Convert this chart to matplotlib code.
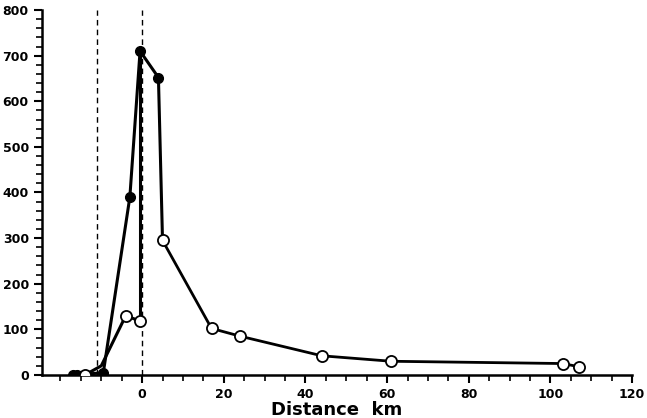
import matplotlib.pyplot as plt
from matplotlib.ticker import MultipleLocator, FixedLocator

# filled circles (black)
fill_x = [-17, -16, -9.5, -3, -0.5, 4]
fill_y = [0, 0, 5, 390, 710, 652]
# open circles
open_x = [-14, -4, -0.5, 5, 17, 24, 44, 61, 103, 107]
open_y = [0, 130, 118, 295, 102, 85, 42, 30, 25, 18]

fig = plt.figure(figsize=(6.47, 4.18), dpi=100)
ax = fig.add_axes([0.065, 0.103, 0.912, 0.873])

# connecting lines
ax.plot(fill_x, fill_y, color='black', lw=2.2, zorder=2)
ax.plot([fill_x[-1], open_x[3]], [fill_y[-1], open_y[3]], color='black', lw=2.2, zorder=2)
ax.plot([-14, -10, -4, -0.5], [0, 20, 130, 118], color='black', lw=2.2, zorder=2)
ax.plot([-0.5, -0.5], [118, 710], color='black', lw=2.2, zorder=2)
ax.plot(open_x[3:], open_y[3:], color='black', lw=2.0, zorder=2)

ax.plot(fill_x, fill_y, 'o', color='black', ms=7, ls='none', zorder=3)
ax.plot(open_x, open_y, 'o', mfc='white', mec='black', mew=1.3, ms=8, ls='none', zorder=3)

ax.axvline(-11, color='black', ls='--', lw=1, dashes=(4, 3))
ax.axvline(0, color='black', ls='--', lw=1, dashes=(4, 3))

ax.set_xlim(-24.5, 120)
ax.set_ylim(0, 800)
ax.xaxis.set_major_locator(FixedLocator([0, 20, 40, 60, 80, 100, 120]))
ax.xaxis.set_minor_locator(MultipleLocator(5))
ax.yaxis.set_major_locator(MultipleLocator(100))
ax.yaxis.set_minor_locator(MultipleLocator(20))
for s in ['top', 'right']:
    ax.spines[s].set_visible(False)
for s in ['left', 'bottom']:
    ax.spines[s].set_linewidth(1.8)
ax.tick_params(which='major', direction='out', length=6, width=1.5, labelsize=9)
ax.tick_params(which='minor', direction='out', length=4, width=1.2)
for lab in ax.get_xticklabels() + ax.get_yticklabels():
    lab.set_fontweight('bold')
ax.set_xlabel('Distance  km', fontsize=13, fontweight='bold', labelpad=0)

fig.savefig('out.png', dpi=100)
